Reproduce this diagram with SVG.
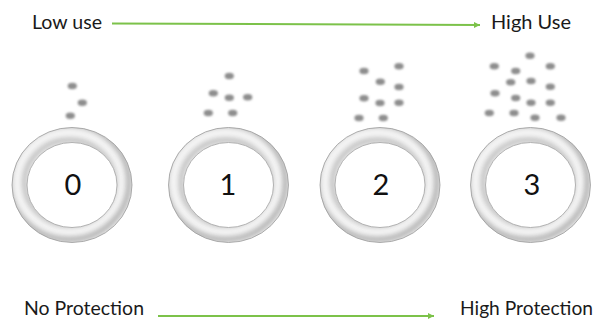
<svg xmlns="http://www.w3.org/2000/svg" xmlns:xlink="http://www.w3.org/1999/xlink" width="598" height="320" viewBox="0 0 598 320">
<style>
.lbl{font-family:"Lato","Liberation Sans",sans-serif;font-size:20px;fill:#1a1a1a}
.num{font-family:"Lato","Liberation Sans",sans-serif;font-size:29px;fill:#111;text-anchor:middle}
.dot{fill:#8e8e8e;filter:url(#dblur)}
.conn{stroke:#7cc24a;stroke-width:2;fill:none;marker-end:url(#ah)}
</style>
<defs>
<filter id="dblur" x="-50%" y="-50%" width="200%" height="200%"><feGaussianBlur stdDeviation="1"/></filter>
<filter id="sblur" x="-20%" y="-20%" width="140%" height="140%"><feGaussianBlur stdDeviation="2.5"/></filter>
<marker id="ah" markerWidth="8" markerHeight="8" refX="6" refY="3" orient="auto" markerUnits="userSpaceOnUse"><path d="M0,0 L6,3 L0,6 Z" fill="#7cc24a"/></marker>
<clipPath id="band"><path clip-rule="evenodd" d="M-60,0 a60,57.5 0 1,0 120,0 a60,57.5 0 1,0 -120,0 Z M-45,0 a45,42.5 0 1,0 90,0 a45,42.5 0 1,0 -90,0 Z"/></clipPath>
<g id="ring">
<g clip-path="url(#band)">
<rect x="-62" y="-60" width="124" height="120" fill="#f3f3f3"/>
<ellipse cx="-3" cy="-3" rx="60" ry="57.5" fill="none" stroke="#4a4a4a" stroke-width="5" opacity="0.4" filter="url(#sblur)"/>
<ellipse cx="-2.5" cy="-2.5" rx="45" ry="42.5" fill="none" stroke="#4a4a4a" stroke-width="4" opacity="0.35" filter="url(#sblur)"/>
</g>
<ellipse cx="0" cy="0" rx="60" ry="57.5" fill="none" stroke="#9a9a9a" stroke-width="0.8"/>
<ellipse cx="0" cy="0" rx="45" ry="42.5" fill="#fff" stroke="#a0a0a0" stroke-width="0.8"/>
</g>
</defs>
<rect width="598" height="320" fill="#fff"/>
<g id="connectors">
<path class="conn" d="M112,23.5 L480,25"/>
<path class="conn" d="M158,316 L434,316"/>
</g>
<g id="label-low-use"><text class="lbl" x="32" y="29" textLength="70" lengthAdjust="spacingAndGlyphs">Low use</text></g>
<g id="label-high-use"><text class="lbl" x="491" y="29" textLength="80" lengthAdjust="spacingAndGlyphs">High Use</text></g>
<g id="label-no-protection"><text class="lbl" x="24" y="315" textLength="120" lengthAdjust="spacingAndGlyphs">No Protection</text></g>
<g id="label-high-protection"><text class="lbl" x="460" y="315" textLength="133" lengthAdjust="spacingAndGlyphs">High Protection</text></g>
<g id="node-0">
<use xlink:href="#ring" href="#ring" transform="translate(72,185)"/>
<text class="num" x="73" y="195">0</text>
<ellipse class="dot" cx="72.3" cy="86" rx="4.6" ry="3.2"/>
<ellipse class="dot" cx="82.3" cy="102.7" rx="4.6" ry="3.2"/>
<ellipse class="dot" cx="70.3" cy="115.7" rx="4.6" ry="3.2"/>
</g>
<g id="node-1">
<use xlink:href="#ring" href="#ring" transform="translate(228.5,185)"/>
<text class="num" x="228" y="195">1</text>
<ellipse class="dot" cx="229.3" cy="76" rx="4.6" ry="3.2"/>
<ellipse class="dot" cx="213.3" cy="93.3" rx="4.6" ry="3.2"/>
<ellipse class="dot" cx="229.3" cy="97.7" rx="4.6" ry="3.2"/>
<ellipse class="dot" cx="247.7" cy="97.3" rx="4.6" ry="3.2"/>
<ellipse class="dot" cx="208.3" cy="113" rx="4.6" ry="3.2"/>
<ellipse class="dot" cx="232.7" cy="113" rx="4.6" ry="3.2"/>
</g>
<g id="node-2">
<use xlink:href="#ring" href="#ring" transform="translate(380,185)"/>
<text class="num" x="381" y="195">2</text>
<ellipse class="dot" cx="364" cy="71" rx="4.6" ry="3.2"/>
<ellipse class="dot" cx="399" cy="66.3" rx="4.6" ry="3.2"/>
<ellipse class="dot" cx="380.3" cy="81.7" rx="4.6" ry="3.2"/>
<ellipse class="dot" cx="399" cy="87" rx="4.6" ry="3.2"/>
<ellipse class="dot" cx="364" cy="98.3" rx="4.6" ry="3.2"/>
<ellipse class="dot" cx="380" cy="103" rx="4.6" ry="3.2"/>
<ellipse class="dot" cx="399" cy="102.7" rx="4.6" ry="3.2"/>
<ellipse class="dot" cx="359" cy="118" rx="4.6" ry="3.2"/>
<ellipse class="dot" cx="383.3" cy="118" rx="4.6" ry="3.2"/>
</g>
<g id="node-3">
<use xlink:href="#ring" href="#ring" transform="translate(530.5,185)"/>
<text class="num" x="532" y="195">3</text>
<ellipse class="dot" cx="530" cy="55.7" rx="4.6" ry="3.2"/>
<ellipse class="dot" cx="494.3" cy="66.3" rx="4.6" ry="3.2"/>
<ellipse class="dot" cx="550.3" cy="66.3" rx="4.6" ry="3.2"/>
<ellipse class="dot" cx="515.7" cy="71" rx="4.6" ry="3.2"/>
<ellipse class="dot" cx="510.7" cy="82.3" rx="4.6" ry="3.2"/>
<ellipse class="dot" cx="531" cy="81" rx="4.6" ry="3.2"/>
<ellipse class="dot" cx="550.3" cy="86.7" rx="4.6" ry="3.2"/>
<ellipse class="dot" cx="495" cy="93.3" rx="4.6" ry="3.2"/>
<ellipse class="dot" cx="515.7" cy="98" rx="4.6" ry="3.2"/>
<ellipse class="dot" cx="531" cy="102.7" rx="4.6" ry="3.2"/>
<ellipse class="dot" cx="550.3" cy="102.7" rx="4.6" ry="3.2"/>
<ellipse class="dot" cx="489.3" cy="113" rx="4.6" ry="3.2"/>
<ellipse class="dot" cx="514" cy="113" rx="4.6" ry="3.2"/>
<ellipse class="dot" cx="535" cy="117.7" rx="4.6" ry="3.2"/>
<ellipse class="dot" cx="561" cy="117.7" rx="4.6" ry="3.2"/>
</g>
</svg>
